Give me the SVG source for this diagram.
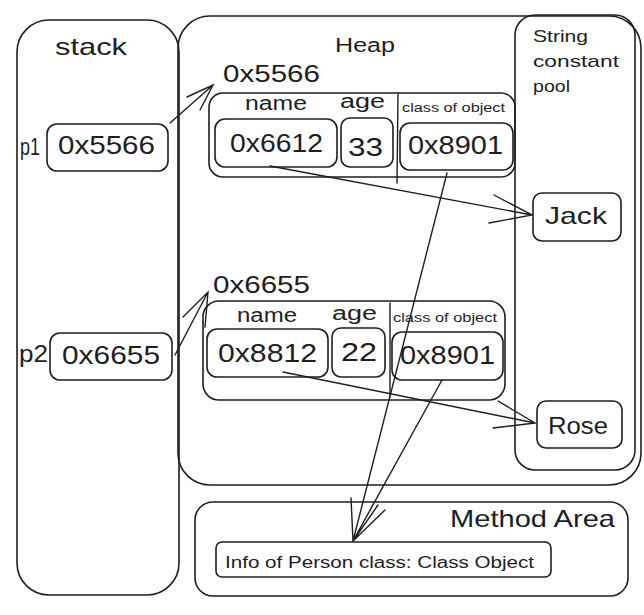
<svg xmlns="http://www.w3.org/2000/svg" width="644" height="615" viewBox="0 0 644 615">
<style>
.b{fill:none;stroke:#1e1e1e;stroke-width:1.6;stroke-linecap:round;stroke-linejoin:round}
.c{fill:none;stroke:#1e1e1e;stroke-width:1.4;stroke-linecap:round}
text{font-family:"Liberation Sans",Arial,sans-serif;fill:#1e1e1e}
.t20{font-size:20px}.t24{font-size:24px}.t26{font-size:26px}.t16{font-size:16px}.t12{font-size:12px}.t17{font-size:17px}
</style>
<rect width="644" height="615" fill="#fff"/>
<g id="heap">
<rect class="b" x="178" y="16" width="463" height="469" rx="32"/>
<text class="t20" x="335" y="52" textLength="60" lengthAdjust="spacingAndGlyphs">Heap</text>
</g>
<g id="stack">
<rect class="b" x="17" y="20" width="162" height="575" rx="32"/>
<text class="t24" x="55" y="55" textLength="72" lengthAdjust="spacingAndGlyphs">stack</text>
</g>
<g id="pool">
<rect class="b" x="515" y="15" width="120" height="455" rx="20"/>
<text class="t17" x="533" y="42" textLength="55" lengthAdjust="spacingAndGlyphs">String</text>
<text class="t17" x="533" y="67" textLength="86" lengthAdjust="spacingAndGlyphs">constant</text>
<text class="t17" x="533" y="92" textLength="37" lengthAdjust="spacingAndGlyphs">pool</text>
</g>
<g id="p1">
<text class="t24" x="20" y="155" textLength="20" lengthAdjust="spacingAndGlyphs">p1</text>
<rect class="b" x="47" y="124" width="121" height="47" rx="10"/>
<text class="t26" x="58" y="154" textLength="97" lengthAdjust="spacingAndGlyphs">0x5566</text>
</g>
<g id="p2">
<text class="t24" x="19" y="362" textLength="29" lengthAdjust="spacingAndGlyphs">p2</text>
<rect class="b" x="50" y="333" width="122" height="47" rx="10"/>
<text class="t26" x="62" y="364" textLength="98" lengthAdjust="spacingAndGlyphs">0x6655</text>
</g>
<g id="obj1">
<text class="t24" x="223" y="82" textLength="97" lengthAdjust="spacingAndGlyphs">0x5566</text>
<rect class="b" x="209" y="93" width="306" height="84" rx="14"/>
<text class="t20" x="245" y="110" textLength="62" lengthAdjust="spacingAndGlyphs">name</text>
<text class="t20" x="340" y="108" textLength="45" lengthAdjust="spacingAndGlyphs">age</text>
<line class="c" x1="398" y1="94" x2="397" y2="183"/>
<text class="t12" x="402" y="112" textLength="103" lengthAdjust="spacingAndGlyphs">class of object</text>
<rect class="b" x="215" y="119" width="122" height="48" rx="10"/>
<text class="t26" x="230" y="152" textLength="93" lengthAdjust="spacingAndGlyphs">0x6612</text>
<rect class="b" x="341" y="118" width="52" height="49" rx="9"/>
<text class="t26" x="348" y="156" textLength="35" lengthAdjust="spacingAndGlyphs">33</text>
<rect class="b" x="400" y="123" width="113" height="47" rx="10"/>
<text class="t26" x="408" y="154" textLength="95" lengthAdjust="spacingAndGlyphs">0x8901</text>
</g>
<g id="obj2">
<text class="t24" x="213" y="293" textLength="97" lengthAdjust="spacingAndGlyphs">0x6655</text>
<rect class="b" x="203" y="301" width="302" height="99" rx="16"/>
<text class="t20" x="237" y="322" textLength="60" lengthAdjust="spacingAndGlyphs">name</text>
<text class="t20" x="332" y="320" textLength="45" lengthAdjust="spacingAndGlyphs">age</text>
<line class="c" x1="390" y1="303" x2="390" y2="397"/>
<text class="t12" x="393" y="322" textLength="104" lengthAdjust="spacingAndGlyphs">class of object</text>
<rect class="b" x="207" y="329" width="121" height="48" rx="10"/>
<text class="t26" x="218" y="362" textLength="99" lengthAdjust="spacingAndGlyphs">0x8812</text>
<rect class="b" x="332" y="328" width="53" height="49" rx="9"/>
<text class="t26" x="341" y="361" textLength="36" lengthAdjust="spacingAndGlyphs">22</text>
<rect class="b" x="392" y="332" width="111" height="48" rx="10"/>
<text class="t26" x="400" y="364" textLength="95" lengthAdjust="spacingAndGlyphs">0x8901</text>
</g>
<g id="jack">
<rect class="b" x="533" y="193" width="88" height="48" rx="9"/>
<text class="t24" x="545" y="224" textLength="62" lengthAdjust="spacingAndGlyphs">Jack</text>
</g>
<g id="rose">
<rect class="b" x="537" y="401" width="85" height="47" rx="9"/>
<text class="t24" x="548" y="434" textLength="60" lengthAdjust="spacingAndGlyphs">Rose</text>
</g>
<g id="method">
<rect class="b" x="195" y="502" width="433" height="94" rx="18"/>
<text class="t24" x="450" y="527" textLength="165" lengthAdjust="spacingAndGlyphs">Method Area</text>
<rect class="b" x="216" y="542" width="335" height="35" rx="6"/>
<text class="t16" x="225" y="568" textLength="309" lengthAdjust="spacingAndGlyphs">Info of Person class: Class Object</text>
</g>
<g id="connectors">
<path class="c" d="M170 123 L213 85 M187 97 L213 85 L200 110"/>
<path class="c" d="M175 355 L208 292 M183 317 L208 292 L205 327"/>
<path class="c" d="M270 166 L532 215 M494 195 L532 215 L489 223"/>
<path class="c" d="M283 372 L535 423 M498 401 L535 423 L493 428"/>
<path class="c" d="M447 173 L353 541 M351 498 L353 541"/>
<path class="c" d="M442 380 L353 541 M385 510 L353 541 M378 505 L353 541"/>
</g>
</svg>
